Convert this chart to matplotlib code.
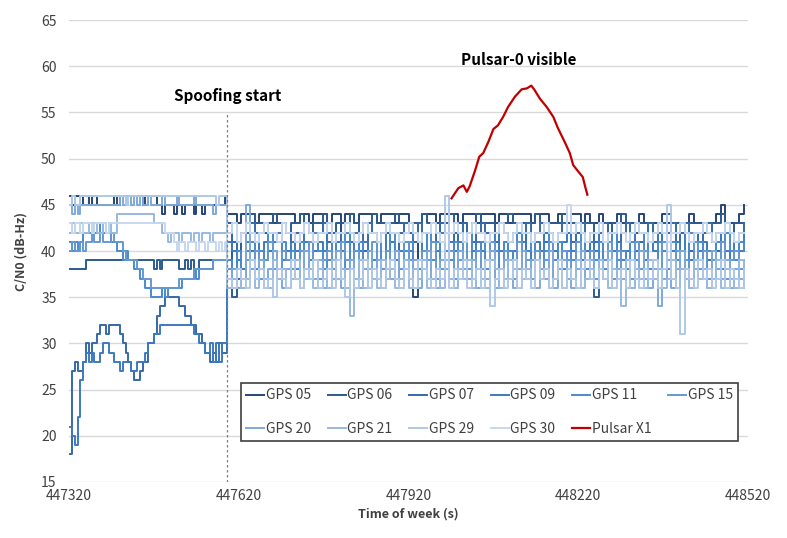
import numpy as np
import matplotlib
matplotlib.use('Agg')
import matplotlib.pyplot as plt

plt.rcParams['font.family'] = ['Noto Sans CJK JP', 'DejaVu Sans']

# time of week where the logged traces start, and when spoofing starts
t_start = 447320
spoof_t = 447600
pre_step = 5    # seconds between values before spoofing
post_step = 8   # seconds between values after spoofing

names = ['GPS 05', 'GPS 06', 'GPS 07', 'GPS 09', 'GPS 11',
         'GPS 15', 'GPS 20', 'GPS 21', 'GPS 29', 'GPS 30']
colors = ['#264478', '#2e5a8e', '#3569a8', '#3d79c0', '#4a8ace',
          '#6598d3', '#7fa8da', '#98b9e1', '#b0c8e8', '#c6d7ef']

# C/N0 before spoofing (every 5 s from 447320)
pre_05 = [46, 45, 46, 46, 45, 46, 46, 45, 46, 46,
          45, 45, 45, 45, 45, 45, 46, 45,
          46, 46, 46, 46, 46, 46, 46, 46, 45, 46, 46, 46, 46,
          45, 45, 44, 45, 45, 45, 44, 45, 45, 44, 45, 45, 45, 44, 45, 45, 44, 45, 45,
          45, 45, 45, 45, 45, 46]
pre_06 = [38, 38, 38, 38, 38, 38,
          39, 39, 39, 39, 39, 39, 39, 39, 39, 39, 39, 39, 39, 39, 39, 39, 39, 39, 39, 39, 39, 39, 39, 39,
          38, 39, 38, 39, 39, 39, 39, 39, 39, 38, 38, 39, 38, 39, 38, 38,
          39, 39, 39, 39, 39, 39, 39, 39, 39, 39]
pre_07 = [18, 27, 28, 27, 27, 28, 30, 29, 30, 30, 31, 32, 32, 31, 32, 32, 32, 32, 31, 30,
          29, 28, 27, 26, 26, 27, 28, 28, 30, 30, 31, 33, 34, 34, 35, 35, 35, 35, 35, 34,
          34, 33, 33, 32, 32, 31, 31, 30, 29, 29, 28, 29, 28, 30, 29, 29]
pre_09 = [21, 20, 19, 22, 26, 28, 29, 28, 29, 28, 28, 29, 30, 30, 29, 29, 28, 28, 27, 28,
          28, 28, 27, 27, 28, 28, 28, 29, 30, 30, 31, 31, 32, 32, 32, 32, 32, 32, 32, 32,
          32, 32, 32, 32, 31, 31, 30, 30, 29, 29, 30, 28, 30, 28, 30, 30]
pre_11 = [41, 40, 41, 40, 41, 42, 42, 42, 43, 42, 42, 43, 42, 42, 42, 41, 41, 40, 40, 39,
          40, 39, 39, 38, 38, 37, 37, 36, 36, 35, 35, 35, 35, 36, 35, 36, 36, 36, 36, 36,
          37, 37, 37, 37, 38, 37, 38, 38, 38, 38, 38, 39, 39, 39, 39, 39]
pre_15 = [40, 41, 40, 40, 41, 40,
          41, 41, 42, 41, 41, 42, 41, 41, 41, 42, 41, 41, 41,
          40, 39, 39, 39, 39, 38, 38, 37, 37, 37, 36, 36, 36, 36, 36, 36, 36, 36, 36, 36,
          37, 37, 37, 37, 37, 38, 38, 38, 38, 38, 38, 38, 39, 39, 39, 39, 39]
pre_20 = [45, 44, 45, 44, 45,
          45, 45, 45, 45, 45, 45, 45, 45, 45, 45, 45, 45, 45,
          46, 45, 46, 46, 45, 46, 45, 46, 45, 45, 46, 45,
          45, 45, 45, 46, 45, 45, 45, 45, 46, 45, 45, 45, 45, 45, 46, 45, 45, 45, 45, 45,
          45, 44, 45, 45, 45, 45]
pre_21 = [42, 43, 42, 42, 43, 42, 42, 43, 42, 43, 42, 42, 43, 42, 43, 42, 42,
          44, 44, 44, 44, 44, 44, 44, 44, 44, 44, 44, 44, 44,
          43, 43, 43,
          42, 42, 41, 42, 42, 42, 41, 42, 42, 42, 41, 42, 42, 41, 42, 42, 42, 41, 42, 42,
          42, 42, 42]
pre_29 = [45, 46, 45, 45, 46,
          46, 46, 46, 46, 46, 46, 46, 46, 46, 46, 46, 46,
          46, 46, 46, 45, 46, 46, 46, 46, 46, 46, 46, 46, 46, 46, 46, 46, 46, 46, 46, 46,
          46, 46, 46, 46, 46, 46, 46, 46, 46, 46, 46, 46, 46, 46, 46, 45, 46, 46, 46]
pre_30 = [43, 42, 43, 43, 42, 43, 43, 43, 42, 43, 43, 43, 43, 42, 43, 43, 43,
          43, 43, 43, 43, 43, 43, 43, 43, 43, 43, 43, 43, 43,
          43, 43, 43, 43, 42, 42, 42,
          41, 40, 41, 41, 40, 41, 41, 41, 40, 41, 41, 40, 41, 41, 41, 40, 41, 40, 41]

# C/N0 after spoofing (every 8 s from 447600)
post_05 = [44, 44, 43, 44, 44, 44, 43, 44, 44, 44, 43, 44, 44, 44, 44, 43, 44, 44, 43, 44,
           44, 44, 43, 44, 44, 42, 44, 44, 43, 44, 44, 44, 44, 43, 44, 44, 44, 43, 44, 44,
           43, 35, 43, 44, 44, 44, 43, 44, 44, 44, 44, 43, 44, 44, 44, 43, 44, 44, 44, 43,
           44, 44, 43, 44, 44, 44, 44, 43, 44, 44, 44, 43, 43, 44, 44, 43, 44, 44, 43, 44,
           43, 43, 44, 43, 43, 43, 44, 43, 43, 43, 43, 44, 43, 43, 43, 43, 44, 43, 43, 43,
           43, 43, 44, 43, 43, 43, 43, 43, 44, 45, 43, 43, 43, 44, 45]
post_06 = [43, 35, 38, 42, 43, 44, 43, 43, 42, 43, 44, 43, 43, 42, 43, 43, 44, 43, 42, 43,
           43, 44, 43, 42, 43, 43, 43, 44, 43, 42, 43, 43, 44, 43, 43, 42, 43, 44, 43, 43,
           42, 43, 43, 44, 43, 43, 42, 43, 43, 44, 43, 43, 43, 42, 43, 44, 43, 43, 43, 42,
           43, 43, 44, 43, 42, 43, 43, 43, 44, 43, 42, 43, 43, 43, 44, 43, 43, 42, 43, 43,
           43, 35, 43, 43, 42, 43, 43, 44, 43, 43, 42, 43, 43, 43, 42, 43, 43, 44, 43, 43,
           42, 43, 43, 43, 43, 42, 43, 43, 43, 44, 43, 42, 43, 43, 43]
post_07 = [42, 41, 37, 36, 42, 43, 41, 42, 43, 40, 42, 41, 43, 42, 41, 42, 40, 43, 42, 41,
           42, 43, 41, 42, 40, 42, 43, 41, 42, 42, 40, 43, 42, 41, 42, 43, 41, 40, 42, 43,
           42, 41, 43, 42, 40, 41, 42, 43, 42, 41, 42, 40, 43, 42, 41, 42, 43, 42, 40, 41,
           43, 42, 41, 42, 42, 40, 43, 41, 42, 43, 41, 42, 40, 42, 43, 42, 41, 42, 43, 40,
           42, 41, 42, 43, 40, 42, 41, 42, 43, 42, 40, 41, 42, 43, 41, 42, 40, 42, 43, 41,
           42, 43, 40, 42, 41, 42, 43, 41, 40, 42, 43, 42, 41, 42, 43]
post_09 = [41, 40, 39, 38, 41, 40, 42, 39, 41, 40, 41, 42, 39, 40, 41, 40, 42, 41, 39, 40,
           41, 40, 42, 39, 41, 40, 41, 39, 42, 40, 41, 40, 39, 41, 42, 40, 41, 39, 40, 41,
           40, 42, 41, 39, 40, 41, 40, 42, 39, 41, 40, 41, 39, 42, 40, 41, 40, 39, 41, 42,
           40, 41, 39, 40, 42, 41, 40, 39, 41, 40, 42, 41, 40, 39, 41, 42, 40, 41, 39, 40,
           41, 40, 42, 39, 41, 40, 41, 39, 40, 42, 41, 40, 39, 41, 40, 42, 41, 39, 40, 41,
           40, 42, 39, 41, 40, 41, 39, 40, 42, 41, 40, 39, 41, 40, 42]
post_11 = [39, 38, 40, 37, 40, 41, 38, 40, 39, 42, 40, 38, 41, 39, 40, 38, 41, 40, 39, 42,
           40, 38, 39, 41, 40, 38, 42, 39, 40, 41, 38, 40, 39, 41, 38, 40, 42, 39, 38, 40,
           41, 39, 38, 40, 42, 39, 41, 38, 40, 39, 41, 40, 38, 42, 39, 40, 41, 38, 39, 40,
           38, 41, 40, 39, 42, 38, 40, 41, 39, 38, 40, 42, 39, 41, 38, 40, 39, 41, 42, 38,
           40, 39, 41, 38, 40, 42, 39, 40, 38, 41, 39, 40, 42, 38, 39, 41, 40, 38, 41, 39,
           40, 38, 42, 39, 41, 38, 40, 39, 41, 38, 42, 40, 39, 41, 40]
post_15 = [38, 37, 36, 37, 39, 38, 40, 37, 39, 41, 38, 37, 40, 39, 38, 37, 40, 38, 41, 39,
           37, 39, 40, 38, 37, 41, 39, 38, 40, 37, 39, 38, 41, 37, 38, 40, 39, 37, 38, 41,
           39, 38, 37, 40, 39, 41, 37, 38, 39, 40, 37, 39, 41, 38, 37, 40, 38, 39, 41, 37,
           38, 40, 39, 37, 41, 38, 39, 37, 40, 38, 39, 41, 37, 38, 40, 39, 37, 41, 38, 39,
           40, 37, 38, 39, 41, 37, 40, 38, 39, 37, 41, 38, 40, 39, 37, 38, 41, 39, 37, 40,
           38, 39, 37, 41, 38, 40, 37, 39, 38, 41, 37, 39, 40, 38, 39]
post_20 = [37, 38, 36, 37, 45, 38, 37, 39, 36, 38, 40, 37, 36, 38, 39, 37, 36, 40, 38, 37,
           39, 36, 38, 37, 40, 36, 38, 39, 37, 36, 38, 40, 37, 39, 36, 38, 37, 40, 36, 38,
           37, 39, 36, 38, 40, 37, 36, 39, 38, 37, 36, 40, 38, 37, 39, 36, 38, 37, 40, 36,
           38, 39, 37, 36, 38, 40, 37, 39, 36, 38, 37, 40, 36, 38, 39, 37, 36, 38, 40, 37,
           39, 36, 38, 37, 40, 36, 38, 37, 39, 36, 38, 40, 37, 36, 38, 34, 37, 39, 36, 38,
           40, 37, 36, 38, 39, 37, 36, 40, 38, 37, 39, 36, 38, 37, 36]
post_21 = [36, 37, 38, 36, 37, 39, 36, 38, 37, 36, 39, 37, 38, 36, 37, 39, 36, 37, 38, 36,
           38, 37, 36, 39, 37, 38, 36, 33, 37, 39, 36, 38, 37, 36, 39, 37, 38, 36, 37, 39,
           36, 38, 37, 39, 36, 37, 38, 36, 39, 37, 36, 38, 37, 39, 36, 38, 37, 36, 39, 38,
           36, 37, 39, 38, 36, 37, 38, 36, 39, 37, 38, 36, 37, 39, 36, 38, 37, 39, 36, 37,
           38, 36, 39, 37, 36, 38, 37, 34, 39, 36, 38, 37, 36, 39, 37, 38, 36, 37, 39, 36,
           38, 37, 36, 39, 37, 38, 36, 37, 39, 36, 38, 37, 36, 39, 37]
post_29 = [37, 36, 38, 37, 36, 39, 37, 38, 36, 37, 35, 38, 37, 36, 39, 37, 36, 38, 37, 39,
           36, 37, 38, 36, 39, 37, 35, 38, 36, 37, 39, 36, 38, 37, 36, 38, 39, 37, 36, 38,
           37, 36, 39, 38, 37, 36, 38, 37, 46, 36, 38, 37, 39, 36, 37, 38, 36, 39, 34, 37,
           38, 36, 37, 39, 36, 38, 37, 36, 39, 37, 38, 36, 37, 39, 36, 38, 37, 36, 38, 39,
           37, 36, 38, 37, 39, 36, 37, 38, 36, 39, 37, 36, 38, 37, 39, 36, 38, 45, 37, 36,
           31, 38, 37, 36, 39, 37, 38, 36, 37, 39, 36, 38, 37, 36, 38]
post_30 = [42, 43, 41, 42, 43, 42, 41, 42, 43, 42, 42, 41, 43, 42, 42, 41, 42, 43, 42, 41,
           42, 42, 43, 41, 42, 42, 43, 42, 41, 42, 43, 42, 42, 41, 42, 43, 42, 42, 41, 42,
           43, 42, 41, 42, 42, 43, 42, 41, 42, 42, 43, 42, 41, 42, 43, 42, 42, 41, 42, 42,
           43, 42, 41, 42, 43, 42, 42, 41, 42, 42, 43, 42, 41, 42, 42, 45, 42, 43, 42, 41,
           42, 42, 43, 41, 42, 42, 43, 42, 41, 42, 43, 42, 42, 41, 42, 43, 42, 41, 42, 42,
           43, 42, 41, 42, 42, 43, 42, 41, 42, 42, 43, 42, 41, 42, 42]

pre_all = [pre_05, pre_06, pre_07, pre_09, pre_11, pre_15, pre_20, pre_21, pre_29, pre_30]
post_all = [post_05, post_06, post_07, post_09, post_11, post_15, post_20, post_21, post_29, post_30]

# Pulsar X1 C/N0 while visible
pulsar_t = [447996, 448008, 448017, 448023, 448028, 448037, 448045, 448052, 448061, 448070,
            448078, 448087, 448096, 448108, 448120, 448129, 448137, 448143, 448152, 448164,
            448176, 448184, 448196, 448205, 448211, 448220, 448228, 448232, 448236]
pulsar_v = [45.7, 46.8, 47.1, 46.4, 47.0, 48.6, 50.2, 50.6, 51.8, 53.2,
            53.6, 54.5, 55.6, 56.7, 57.5, 57.6, 57.9, 57.4, 56.5, 55.6,
            54.5, 53.3, 51.8, 50.6, 49.3, 48.6, 48.0, 47.0, 46.1]

x_ticks = [447320, 447620, 447920, 448220, 448520]
y_ticks = [15, 20, 25, 30, 35, 40, 45, 50, 55, 60, 65]

fig = plt.figure(figsize=(7.87, 5.38), dpi=100)
ax = fig.add_axes([0.0877, 0.1041, 0.8628, 0.8587])

# GPS traces, drawn in legend order so the light ones end up on top
for name, col, pre, post in zip(names, colors, pre_all, post_all):
    t = np.concatenate([t_start + pre_step * np.arange(len(pre)),
                        spoof_t + post_step * np.arange(len(post))])
    v = np.concatenate([pre, post])
    ax.plot(t, v, drawstyle='steps-post', color=col, lw=1.4, label=name)

ax.plot(pulsar_t, pulsar_v, color='#c00000', lw=1.6, label='Pulsar X1')

# spoofing start marker and annotations
ax.vlines(spoof_t, 15, 55, colors='#7f7f7f', linestyles=(0, (2, 2)), lw=0.9)
ax.text(spoof_t, 56.8, 'Spoofing start', ha='center', va='center',
        fontsize=11, fontweight='bold', color='#000000')
ax.text(448115, 60.7, 'Pulsar-0 visible', ha='center', va='center',
        fontsize=11, fontweight='bold', color='#000000')

ax.set_xlim(x_ticks[0], x_ticks[-1])
ax.set_ylim(y_ticks[0], y_ticks[-1])
ax.set_xticks(x_ticks)
ax.set_yticks(y_ticks)
ax.tick_params(length=0, labelsize=10, colors='#404040')
ax.tick_params(axis='y', pad=9)
ax.tick_params(axis='x', pad=5)
ax.grid(axis='y', color='#d9d9d9', lw=1)
ax.set_axisbelow(True)
for s in ax.spines.values():
    s.set_visible(False)

ax.set_xlabel('Time of week (s)', fontsize=9, fontweight='bold', color='#404040', labelpad=3)
ax.set_ylabel('C/N0 (dB-Hz)', fontsize=9, fontweight='bold', color='#404040', labelpad=10)

# legend filled row by row: matplotlib fills columns, so reorder the entries
handles, labels = ax.get_legend_handles_labels()
order = [0, 6, 1, 7, 2, 8, 3, 9, 4, 10, 5]
leg = ax.legend([handles[i] for i in order], [labels[i] for i in order],
                loc='center', ncol=6, mode='expand',
                bbox_to_anchor=(0.306, 0.169, 0.632, 0.130), bbox_transform=fig.transFigure,
                fontsize=10, handlelength=1.3, handletextpad=0.1, labelspacing=1.4,
                borderaxespad=0, fancybox=False, framealpha=1)
leg.get_frame().set_edgecolor('#404040')
leg.get_frame().set_linewidth(1.2)
for txt in leg.get_texts():
    txt.set_color('#404040')

fig.savefig('out.png', dpi=100)
